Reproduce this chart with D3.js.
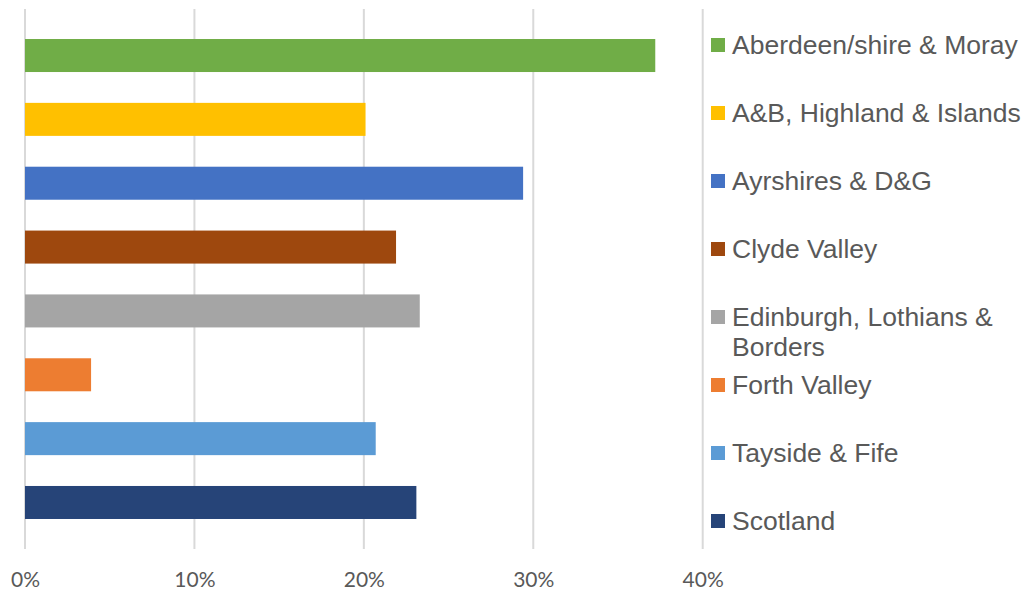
<!DOCTYPE html>
<html>
<head>
<meta charset="utf-8">
<script src="https://cdn.jsdelivr.net/npm/d3@7/dist/d3.min.js"></script>
<style>
  html, body { margin: 0; padding: 0; background: #fff; }
  svg { display: block; }
</style>
</head>
<body>
<svg id="chart" width="1024" height="592"></svg>
<script>
// Share of respondents by region
const regions = [
  "Aberdeen/shire & Moray",
  "A&B, Highland & Islands",
  "Ayrshires & D&G",
  "Clyde Valley",
  "Edinburgh, Lothians & Borders",
  "Forth Valley",
  "Tayside & Fife",
  "Scotland"
];
const shares = [0.372, 0.201, 0.294, 0.219, 0.233, 0.039, 0.207, 0.231];
const colours = ["#70AD47", "#FFC000", "#4472C4", "#9E480E", "#A5A5A5", "#ED7D31", "#5B9BD5", "#264478"];
const xTicks = [0, 0.1, 0.2, 0.3, 0.4];

const svg = d3.select("#chart");
const textColour = "#595959";
const gridColour = "#D9D9D9";

const x = d3.scaleLinear().domain([0, 0.4]).range([25, 702.7]);
const y = d3.scaleBand().domain(regions).range([9, 549])
  .paddingInner(0.483).paddingOuter(0.47);

// vertical gridlines
svg.append("g").selectAll("line").data(xTicks).join("line")
  .attr("x1", d => x(d)).attr("x2", d => x(d))
  .attr("y1", 9).attr("y2", 549)
  .attr("stroke", gridColour).attr("stroke-width", 2);

// x axis tick labels
const xAxis = d3.axisBottom(x).tickValues(xTicks).tickFormat(d3.format(".0%")).tickSize(0).tickPadding(0);
const gx = svg.append("g").attr("transform", "translate(0,569)").call(xAxis);
gx.select(".domain").remove();
gx.selectAll("text")
  .attr("fill", textColour)
  .attr("font-family", "Lato, 'Open Sans', sans-serif")
  .attr("font-size", 21)
  .attr("dy", "0.85em");

// bars
svg.append("g").selectAll("rect").data(regions).join("rect")
  .attr("x", x(0))
  .attr("y", d => y(d))
  .attr("width", (d, i) => x(shares[i]) - x(0))
  .attr("height", y.bandwidth())
  .attr("fill", (d, i) => colours[i]);

// legend
const ly = d3.scalePoint().domain(regions).range([45, 521]);
const legendFont = 26.5;
const maxWidth = 292;
const legend = svg.append("g").attr("font-family", "'Liberation Sans', Arial, sans-serif")
  .attr("font-size", legendFont).attr("fill", textColour);

regions.forEach((name, i) => {
  const cy = ly(name);
  legend.append("rect")
    .attr("x", 711).attr("y", cy - 7)
    .attr("width", 14).attr("height", 14)
    .attr("fill", colours[i]);
  const t = legend.append("text").attr("x", 732).attr("y", cy + 9);
  // simple word wrap
  const words = name.split(" ");
  let line = [];
  let tspan = t.append("tspan").attr("x", 732).attr("dy", 0);
  words.forEach(w => {
    line.push(w);
    tspan.text(line.join(" "));
    if (tspan.node().getComputedTextLength() > maxWidth && line.length > 1) {
      line.pop();
      tspan.text(line.join(" "));
      line = [w];
      tspan = t.append("tspan").attr("x", 732).attr("dy", 30).text(w);
    }
  });
});
</script>
</body>
</html>
